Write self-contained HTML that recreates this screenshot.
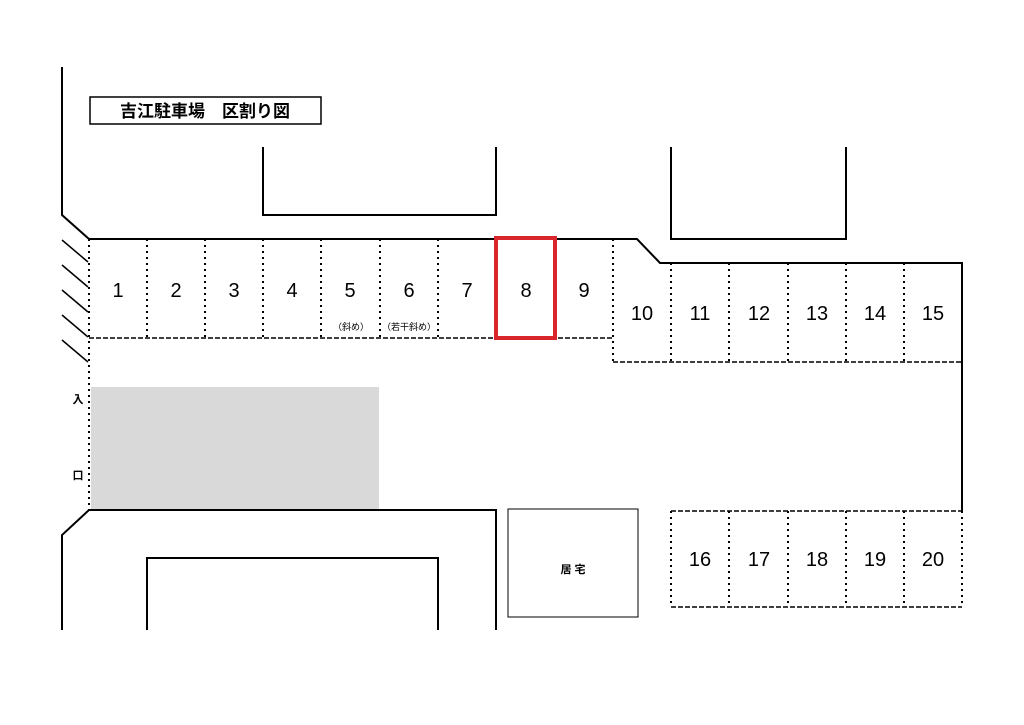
<!DOCTYPE html><html><head><meta charset="utf-8"><style>body{margin:0;background:#fff}svg{display:block}text{font-family:"Liberation Sans","Noto Sans CJK JP",sans-serif}</style></head><body>
<svg width="1024" height="725" viewBox="0 0 1024 725">
<g fill="none" stroke="#000" stroke-width="2">
<rect x="90" y="97" width="231" height="27" stroke-width="1.5"/>
<polyline points="263,147 263,215 496,215 496,147"/>
<polyline points="671,147 671,239 846,239 846,147"/>
<polyline points="62,67 62,215 89,239 637,239 660,263 962,263 962,511"/>
<polyline points="62,630 62,535 89,510 496,510 496,630"/>
<polyline points="147,630 147,558 438,558 438,630"/>
<rect x="508" y="509" width="130" height="108" stroke-width="1"/>
</g>
<g stroke="#000" stroke-width="1.5">
<line x1="62" y1="240" x2="88" y2="262"/><line x1="62" y1="265" x2="88" y2="287"/><line x1="62" y1="290" x2="88" y2="312"/><line x1="62" y1="315" x2="88" y2="337"/><line x1="62" y1="340" x2="88" y2="362"/>
</g>
<rect x="91" y="387" width="288" height="122" fill="#d9d9d9"/>
<g fill="none" stroke="#000" stroke-width="2" stroke-dasharray="2,4">
<line x1="89" y1="239" x2="89" y2="510"/>
<line x1="147" y1="239" x2="147" y2="338"/><line x1="205" y1="239" x2="205" y2="338"/><line x1="263" y1="239" x2="263" y2="338"/><line x1="321" y1="239" x2="321" y2="338"/><line x1="380" y1="239" x2="380" y2="338"/><line x1="438" y1="239" x2="438" y2="338"/>
<line x1="613" y1="239" x2="613" y2="362"/>
<line x1="671" y1="263" x2="671" y2="362"/><line x1="729" y1="263" x2="729" y2="362"/><line x1="788" y1="263" x2="788" y2="362"/><line x1="846" y1="263" x2="846" y2="362"/><line x1="904" y1="263" x2="904" y2="362"/>
<line x1="671" y1="511" x2="671" y2="607"/><line x1="729" y1="511" x2="729" y2="607"/><line x1="788" y1="511" x2="788" y2="607"/><line x1="846" y1="511" x2="846" y2="607"/><line x1="904" y1="511" x2="904" y2="607"/><line x1="962" y1="511" x2="962" y2="607"/>
</g>
<g fill="none" stroke="#000" stroke-width="1.5" stroke-dasharray="5,2">
<line x1="89" y1="338" x2="613" y2="338"/>
<line x1="613" y1="362" x2="962" y2="362"/>
<line x1="671" y1="511" x2="962" y2="511"/>
<line x1="671" y1="607" x2="962" y2="607"/>
</g>
<rect x="496" y="238" width="59" height="100" fill="none" stroke="#d9252c" stroke-width="4"/>
<text x="205" y="117" font-size="17" font-weight="bold" text-anchor="middle">吉江駐車場　区割り図</text>
<g font-size="20" text-anchor="middle">
<text x="118" y="297">1</text><text x="176" y="297">2</text><text x="234" y="297">3</text><text x="292" y="297">4</text><text x="350" y="297">5</text><text x="409" y="297">6</text><text x="467" y="297">7</text><text x="526" y="297">8</text><text x="584" y="297">9</text>
<text x="642" y="320">10</text><text x="700" y="320">11</text><text x="759" y="320">12</text><text x="817" y="320">13</text><text x="875" y="320">14</text><text x="933" y="320">15</text>
<text x="700" y="566">16</text><text x="759" y="566">17</text><text x="817" y="566">18</text><text x="875" y="566">19</text><text x="933" y="566">20</text>
</g>
<g font-size="9" text-anchor="middle"><text x="351" y="330">（斜め）</text><text x="409" y="330">（若干斜め）</text></g>
<g font-size="11" font-weight="bold" text-anchor="middle"><text x="78" y="403">入</text><text x="78" y="479">口</text><text x="573" y="573">居 宅</text></g>
</svg></body></html>
